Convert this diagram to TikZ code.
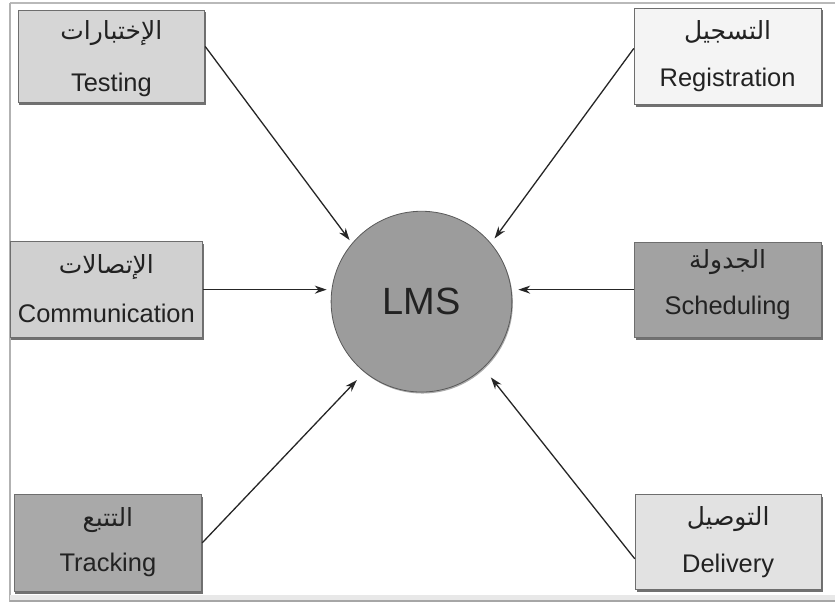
\documentclass[tikz,border=0pt]{standalone}
\usepackage{fontspec}
\setmainfont{Liberation Sans}
\newfontfamily\arabicfont[Script=Arabic]{DejaVu Sans}
\TeXXeTstate=1
\usetikzlibrary{arrows.meta,shadows}
\definecolor{cTest}{HTML}{D6D6D6}
\definecolor{cReg}{HTML}{F4F4F4}
\definecolor{cCom}{HTML}{D0D0D0}
\definecolor{cSch}{HTML}{A2A2A2}
\definecolor{cTrk}{HTML}{A9A9A9}
\definecolor{cDel}{HTML}{E2E2E2}
\definecolor{cLms}{HTML}{9C9C9C}
\definecolor{txt}{HTML}{222222}
\definecolor{boxline}{HTML}{6E6E6E}
\begin{document}
\begin{tikzpicture}[x=1pt,y=-1pt,
  box/.style={draw=boxline, line width=0.9pt, inner sep=0pt,
    drop shadow={shadow xshift=1.5pt, shadow yshift=-2.5pt, fill=black!65, opacity=0.85}},
  ar/.style={font=\arabicfont\fontsize{25}{30}\selectfont, text=txt, anchor=base, inner sep=0pt},
  en/.style={font=\fontsize{25.5}{30}\selectfont, text=txt, anchor=base, inner sep=0pt},
  link/.style={draw=black!85, line width=1.3pt, -{Stealth[length=12pt,width=8pt]}}]
\fill[white] (0,0) rectangle (836,613);
% outer frame
\draw[gray!55, line width=1.5pt] (10,3) -- (836,3);
\draw[gray!60, line width=2pt] (10,3) -- (10,603);
\fill[gray!18] (10,596) rectangle (836,601);
\draw[gray!70, line width=2pt] (10,602) -- (836,602);
% boxes
\node[box, fill=cTest, minimum width=187pt, minimum height=93pt] (t) at (111.5,56.5) {};
\node[ar] (tA) at (111.5,40) {\beginR الإختبارات\endR};
\node[en] (tE) at (111.5,92) {Testing};
\node[box, fill=cReg, minimum width=187pt, minimum height=97pt] (r) at (728.5,56.5) {};
\node[ar] (rA) at (728.5,40) {\beginR التسجيل\endR};
\node[en] (rE) at (728.5,87) {Registration};
\node[box, fill=cCom, minimum width=193pt, minimum height=96pt] (c) at (106.5,290) {};
\node[ar] (cA) at (106.5,274) {\beginR الإتصالات\endR};
\node[en] (cE) at (106.5,323) {Communication};
\node[box, fill=cSch, minimum width=187pt, minimum height=95pt] (s) at (728.5,290) {};
\node[ar] (sA) at (728.5,269) {\beginR الجدولة\endR};
\node[en] (sE) at (728.5,315) {Scheduling};
\node[box, fill=cTrk, minimum width=188pt, minimum height=97pt] (k) at (108,543.5) {};
\node[ar] (kA) at (108,527) {\beginR التتبع\endR};
\node[en] (kE) at (108,572) {Tracking};
\node[box, fill=cDel, minimum width=186pt, minimum height=95pt] (d) at (729,542.5) {};
\node[ar] (dA) at (729,526) {\beginR التوصيل\endR};
\node[en] (dE) at (729,573) {Delivery};
% centre
\node[circle, fill=cLms, draw=gray!70!black, line width=0.8pt, minimum size=181pt, inner sep=0pt,
  font=\fontsize{38}{44}\selectfont, text=txt,
  drop shadow={shadow xshift=1pt, shadow yshift=-1.5pt, fill=black!55, opacity=0.6}] (lms) at (422,302) {LMS};
% connectors
\draw[link, shorten >=4pt] ([yshift=10pt]t.east) -- (lms.140);
\draw[link, shorten >=6pt] ([yshift=8pt]r.west) -- (lms.40);
\draw[link, shorten >=4pt] (c.east) -- (c.east -| lms.west);
\draw[link, shorten >=6pt] (s.west) -- (s.west -| lms.east);
\draw[link, shorten >=11pt] (k.east) -- (lms.-129);
\draw[link, shorten >=12pt] ([yshift=-17pt]d.west) -- (lms.-47);
\end{tikzpicture}
\end{document}
